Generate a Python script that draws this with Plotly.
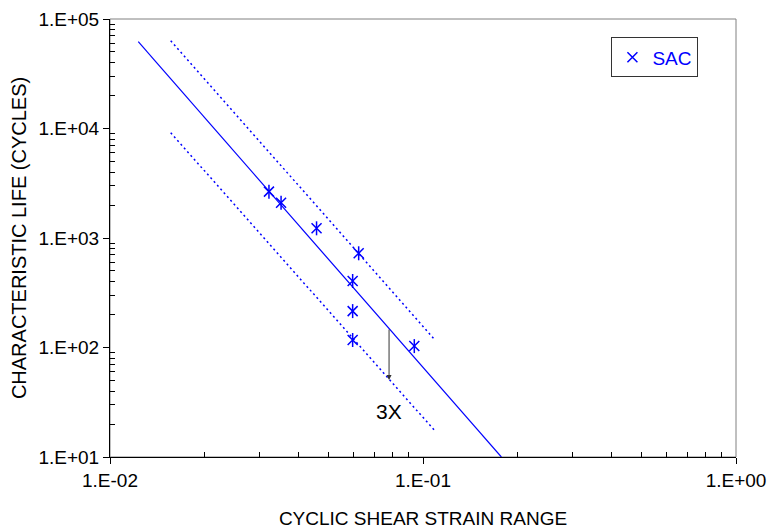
import numpy as np
import plotly.graph_objects as go

# Data
strain = [0.0322, 0.0352, 0.0457, 0.0623, 0.0596, 0.0596, 0.0596, 0.0938]
life = [2650, 2100, 1226, 725, 405, 215, 117, 103]

fit_x = [0.01231, 0.1780]
fit_y = [62040, 10]
upper_x = [0.01563, 0.1092]
upper_y = [63390, 117]
lower_x = [0.01563, 0.1092]
lower_y = [9154, 17.3]

arrow_x = 0.0779
arrow_from = 150.7
arrow_to = 50.5
label_y = 25.8

xtick_vals = [0.01, 0.1, 1]
xtick_text = ["1.E-02", "1.E-01", "1.E+00"]
ytick_vals = [10, 100, 1000, 10000, 100000]
ytick_text = ["1.E+01", "1.E+02", "1.E+03", "1.E+04", "1.E+05"]
minor_mult = [2, 3, 4, 5, 6, 7, 8, 9]

BLUE = "#0000FF"
FONT = "Arial, Liberation Sans, sans-serif"

x_minor = [m * d for d in xtick_vals[:-1] for m in minor_mult]
y_minor = [m * d for d in ytick_vals[:-1] for m in minor_mult]

fig = go.Figure()
fig.add_trace(go.Scatter(x=fit_x, y=fit_y, mode="lines",
                         line=dict(color=BLUE, width=1.2), showlegend=False, hoverinfo="skip"))
fig.add_trace(go.Scatter(x=upper_x, y=upper_y, mode="lines",
                         line=dict(color=BLUE, width=1.5, dash="2px,3px"), showlegend=False, hoverinfo="skip"))
fig.add_trace(go.Scatter(x=lower_x, y=lower_y, mode="lines",
                         line=dict(color=BLUE, width=1.5, dash="2px,3px"), showlegend=False, hoverinfo="skip"))
fig.add_trace(go.Scatter(x=strain, y=life, mode="markers", name="SAC", legendgroup="sac",
                         marker=dict(symbol="x-thin-open", size=10, color=BLUE,
                                     line=dict(color=BLUE, width=1.5))))
fig.add_trace(go.Scatter(x=strain, y=life, mode="markers", name="SAC", legendgroup="sac",
                         showlegend=False,
                         marker=dict(symbol="line-ns-open", size=10, color=BLUE,
                                     line=dict(color=BLUE, width=1.5))))

fig.add_annotation(x=np.log10(arrow_x), y=np.log10(arrow_to),
                   ax=np.log10(arrow_x), ay=np.log10(arrow_from),
                   xref="x", yref="y", axref="x", ayref="y",
                   text="", showarrow=True, arrowhead=2, arrowsize=1,
                   arrowwidth=1, arrowcolor="#333333")
fig.add_annotation(x=np.log10(arrow_x), y=np.log10(label_y), xref="x", yref="y",
                   text="3X", showarrow=False,
                   font=dict(family=FONT, size=21, color="#000000"))

# grey plot-area border
fig.add_shape(type="rect", xref="paper", yref="paper", x0=0, y0=0, x1=1, y1=1,
              line=dict(color="#808080", width=1), layer="below")

axis_common = dict(
    showgrid=False, zeroline=False, showline=True, linecolor="#000000", linewidth=1,
    ticks="outside", ticklen=6, tickcolor="#000000", automargin=False,
    tickfont=dict(family=FONT, size=19, color="#000000"),
)

fig.update_xaxes(type="log", range=[-2, 0], tickvals=xtick_vals, ticktext=xtick_text,
                 minor=dict(ticks="inside", ticklen=5, tickcolor="#000000", showgrid=False,
                            tickvals=x_minor),
                 title=dict(text="CYCLIC SHEAR STRAIN RANGE",
                            font=dict(family=FONT, size=19, color="#000000"), standoff=22),
                 **axis_common)
fig.update_yaxes(type="log", range=[1, 5], tickvals=ytick_vals, ticktext=ytick_text,
                 minor=dict(ticks="inside", ticklen=5, tickcolor="#000000", showgrid=False,
                            tickvals=y_minor),
                 title=dict(text="CHARACTERISTIC LIFE (CYCLES)",
                            font=dict(family=FONT, size=20, color="#000000"), standoff=6),
                 **axis_common)

fig.update_layout(
    width=769, height=529,
    margin=dict(l=110, r=33, t=19, b=72),
    plot_bgcolor="white", paper_bgcolor="white",
    legend=dict(x=0.801, y=0.958, xanchor="left", yanchor="top",
                bordercolor="#333333", borderwidth=1, bgcolor="white",
                font=dict(family=FONT, size=19, color=BLUE),
                itemwidth=30, tracegroupgap=0),
    showlegend=True,
)

fig.write_html("out.html")
